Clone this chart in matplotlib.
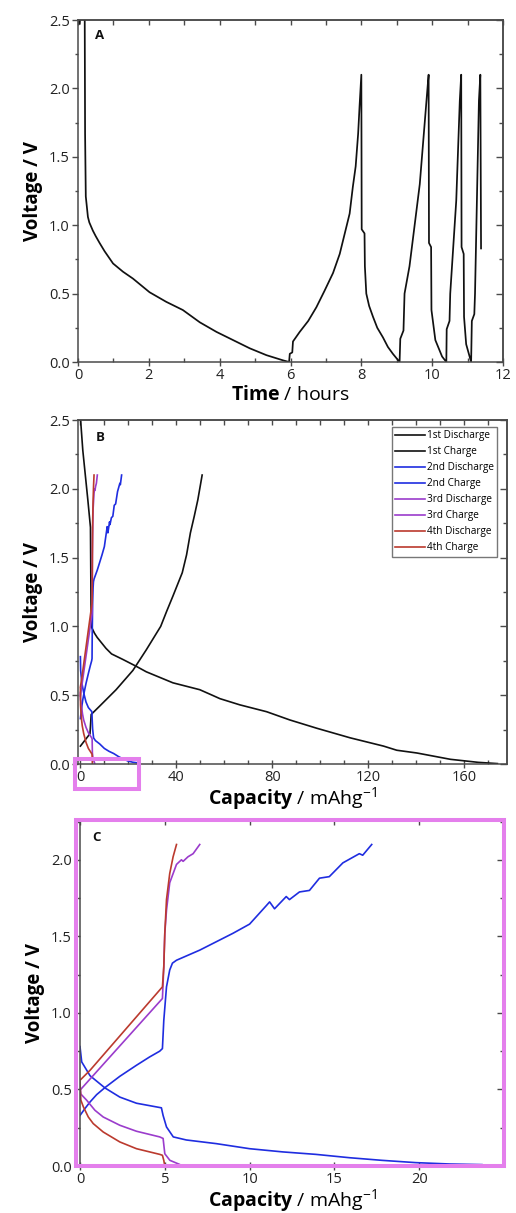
import matplotlib
matplotlib.use("Agg")
import matplotlib.pyplot as plt
from matplotlib.ticker import MultipleLocator, FixedLocator, FuncFormatter
from matplotlib.patches import Rectangle

plt.rcParams['font.family'] = ['Open Sans', 'DejaVu Sans']
plt.rcParams['mathtext.fontset'] = 'custom'
plt.rcParams['mathtext.rm'] = 'Open Sans'
plt.rcParams['mathtext.bf'] = 'Open Sans:bold'
plt.rcParams['axes.linewidth'] = 1.1

# ---- galvanostatic cycling: voltage vs time ----
time_h = [0.02, 0.05, 0.08, 0.17, 0.19, 0.20, 0.22, 0.28, 0.32, 0.42, 0.50, 0.61, 0.75,
          0.99, 1.27, 1.55, 2.02, 2.49, 2.96, 3.44, 3.91, 4.38, 4.85, 5.32, 5.79, 5.96,
          5.98, 6.05, 6.07, 6.26, 6.50, 6.73, 6.96, 7.20, 7.39, 7.58, 7.67, 7.76, 7.84,
          7.91, 7.95, 8.00,
          8.01, 8.09, 8.10, 8.14, 8.22, 8.33, 8.45, 8.61, 8.75, 8.89, 9.08,
          9.10, 9.19, 9.22, 9.36, 9.65, 9.88, 9.90,
          9.91, 9.97, 9.98, 10.09, 10.28, 10.40,
          10.41, 10.49, 10.51, 10.68, 10.78, 10.82,
          10.83, 10.89, 10.90, 10.96, 11.10,
          11.12, 11.19, 11.21, 11.32, 11.36, 11.38]
volt_t = [2.62, 2.47, 2.62, 2.62, 2.50, 1.67, 1.21, 1.06, 1.02, 0.96, 0.92, 0.87, 0.81,
          0.72, 0.66, 0.61, 0.51, 0.44, 0.38, 0.29, 0.22, 0.16, 0.10, 0.05, 0.012, 0.0,
          0.06, 0.07, 0.15, 0.22, 0.30, 0.40, 0.52, 0.65, 0.79, 0.99, 1.085, 1.28, 1.43,
          1.67, 1.87, 2.10,
          0.97, 0.94, 0.70, 0.50, 0.41, 0.33, 0.25, 0.18, 0.11, 0.06, 0.0,
          0.17, 0.23, 0.50, 0.70, 1.30, 2.04, 2.10,
          0.87, 0.84, 0.38, 0.16, 0.04, 0.0,
          0.24, 0.30, 0.50, 1.18, 1.91, 2.10,
          0.84, 0.79, 0.33, 0.13, 0.0,
          0.30, 0.35, 0.50, 1.91, 2.10, 0.83]

# ---- voltage profiles vs specific capacity (mAh/g) ----
cap_1d = [0, 1.0, 3.1, 4.2, 4.5, 5.9, 7.0, 10.7, 13.0, 17.7, 23.3, 27.5, 38.6, 49.8, 55.0,
          58.2, 66.5, 77.7, 87.4, 98.6, 112.6, 126.5, 132.0, 140.4, 154.4, 166.0, 174.0]
v_1d = [2.52, 2.28, 1.92, 1.72, 1.00, 0.95, 0.92, 0.84, 0.80, 0.76, 0.71, 0.67, 0.59, 0.54,
        0.50, 0.475, 0.43, 0.38, 0.32, 0.26, 0.19, 0.13, 0.10, 0.08, 0.034, 0.012, 0.003]

cap_1c = [0, 4.0, 4.5, 8.0, 14.9, 21.9, 27.5, 33.5, 36.0, 38.6, 42.5, 44.3, 45.9, 47.5,
          49.0, 50.0, 50.8]
v_1c = [0.13, 0.22, 0.36, 0.42, 0.54, 0.68, 0.83, 1.00, 1.11, 1.22, 1.39, 1.52, 1.68, 1.80,
        1.92, 2.02, 2.10]

cap_2d = [0, 0.1, 0.59, 1.47, 2.35, 3.33, 4.8, 4.9, 5.1, 5.5, 6.27, 8.04, 10.0,
          11.96, 13.9, 15.9, 17.8, 19.8, 21.8, 23.7]
v_2d = [0.78, 0.68, 0.59, 0.51, 0.45, 0.41, 0.38, 0.33, 0.255, 0.19, 0.17, 0.146, 0.113,
        0.092, 0.076, 0.054, 0.037, 0.022, 0.013, 0.009]

cap_2c = [0, 0.29, 0.59, 0.98, 1.47, 2.35, 3.33, 4.1, 4.7, 4.86, 4.94, 5.1, 5.29, 5.45, 5.69,
          7.06, 9.02, 10.0, 10.98, 11.18, 11.47, 12.16, 12.35, 12.94, 13.53, 14.12, 14.7,
          15.5, 16.47, 16.67, 17.2]
v_2c = [0.33, 0.375, 0.418, 0.466, 0.512, 0.586, 0.658, 0.712, 0.75, 0.767, 0.95, 1.17, 1.28,
        1.325, 1.344, 1.41, 1.52, 1.58, 1.70, 1.725, 1.68, 1.76, 1.74, 1.79, 1.80, 1.88, 1.89,
        1.98, 2.04, 2.03, 2.10]

cap_3d = [0, 0.05, 0.39, 0.88, 1.37, 2.35, 3.33, 4.7, 4.9, 5.0, 5.3, 5.88, 6.0]
v_3d = [0.52, 0.47, 0.43, 0.364, 0.32, 0.266, 0.227, 0.19, 0.18, 0.08, 0.037, 0.01, 0.0]

cap_3c = [0, 4.86, 4.94, 5.0, 5.1, 5.29, 5.69, 5.98, 6.08, 6.37, 6.67, 7.06]
v_3c = [0.495, 1.094, 1.30, 1.52, 1.67, 1.85, 1.97, 2.00, 1.99, 2.02, 2.04, 2.10]

cap_4d = [0, 0.05, 0.2, 0.49, 0.78, 1.37, 2.35, 3.33, 4.7, 4.86, 4.94, 5.0]
v_4d = [0.55, 0.43, 0.386, 0.32, 0.277, 0.222, 0.157, 0.113, 0.076, 0.07, 0.037, 0.0]

cap_4c = [0, 0.59, 4.86, 4.94, 5.0, 5.1, 5.29, 5.49, 5.69]
v_4c = [0.56, 0.625, 1.17, 1.30, 1.52, 1.74, 1.91, 2.02, 2.10]

series = [
    ("1st Discharge", cap_1d, v_1d, "#111111"),
    ("1st Charge", cap_1c, v_1c, "#111111"),
    ("2nd Discharge", cap_2d, v_2d, "#1f2de0"),
    ("2nd Charge", cap_2c, v_2c, "#1f2de0"),
    ("3rd Discharge", cap_3d, v_3d, "#9b3ccc"),
    ("3rd Charge", cap_3c, v_3c, "#9b3ccc"),
    ("4th Discharge", cap_4d, v_4d, "#bb3a2e"),
    ("4th Charge", cap_4c, v_4c, "#bb3a2e"),
]

PINK = "#e47fec"
SPINE = "#4a4a4a"
W, H = 516, 1213

fig = plt.figure(figsize=(W / 100, H / 100), dpi=100)


def box(x0, x1, y0, y1):
    return [x0 / W, 1 - y1 / H, (x1 - x0) / W, (y1 - y0) / H]


def style(ax, xmaj, xmin, ymaj, ymin, xtop=None):
    ax.xaxis.set_major_locator(xmaj)
    ax.xaxis.set_minor_locator(xmin)
    ax.yaxis.set_major_locator(ymaj)
    ax.yaxis.set_minor_locator(ymin)
    ax.yaxis.set_major_formatter(FuncFormatter(lambda v, p: f"{v:.1f}"))
    for s in ax.spines.values():
        s.set_color(SPINE)
    ax.tick_params(axis='x', which='major', direction='inout', length=6, width=1.0,
                   colors=SPINE, labelcolor='#222222', labelsize=10.5, pad=1.5)
    ax.tick_params(axis='x', which='minor', direction='in', length=3, width=1.0, colors=SPINE)
    ax.tick_params(axis='y', which='major', direction='out', length=4, width=1.0,
                   colors=SPINE, labelcolor='#222222', labelsize=10.5, pad=2)
    ax.tick_params(axis='y', which='minor', direction='out', length=2.5, width=1.0, colors=SPINE)
    top = ax.secondary_xaxis('top')
    top.xaxis.set_major_locator(xtop if xtop is not None else xmaj)
    top.xaxis.set_minor_locator(xmin)
    top.tick_params(which='both', direction='in', length=3.5, width=1.0, colors=SPINE,
                    labeltop=False)
    top.spines['top'].set_color(SPINE)
    right = ax.secondary_yaxis('right')
    right.yaxis.set_major_locator(ymaj)
    right.yaxis.set_minor_locator(ymin)
    right.tick_params(which='major', direction='in', length=5, width=1.0, colors=SPINE,
                      labelright=False)
    right.tick_params(which='minor', direction='in', length=3, width=1.0, colors=SPINE)
    right.spines['right'].set_color(SPINE)


def panel_tag(ax, s, x, y):
    ax.text(x, y, s, transform=ax.transAxes, fontsize=9.5, fontweight='bold',
            ha='left', va='center', color='#111111')


# Panel A: voltage vs time
axA = fig.add_axes(box(78, 503, 20, 362))
axA.plot(time_h, volt_t, color='#111111', lw=1.25)
axA.set_xlim(0, 12)
axA.set_ylim(0, 2.5)
style(axA, MultipleLocator(2), MultipleLocator(1), MultipleLocator(0.5), MultipleLocator(0.25))
axA.set_xlabel(r'$\mathbf{Time}$ / hours', fontsize=14, labelpad=1)
axA.set_ylabel('Voltage / V', fontsize=13.5, fontweight='bold', labelpad=4)
panel_tag(axA, 'A', 0.04, 0.955)

# Panel B: voltage profiles, full capacity range
axB = fig.add_axes(box(78, 507, 420, 764))
for label, c, v, col in series:
    axB.plot(c, v, color=col, lw=1.2, label=label)
axB.set_xlim(-1, 178)
axB.set_ylim(0, 2.5)
style(axB, MultipleLocator(40), MultipleLocator(10), MultipleLocator(0.5), MultipleLocator(0.25),
      xtop=MultipleLocator(40))
axB.xaxis.set_major_formatter(FuncFormatter(lambda v, p: f"{v:.0f}"))
axB.set_xlabel(r'$\mathbf{Capacity}$ / mAhg$^{-1}$', fontsize=14, labelpad=0)
axB.set_ylabel('Voltage / V', fontsize=13.5, fontweight='bold', labelpad=4)
panel_tag(axB, 'B', 0.042, 0.95)
leg = axB.legend(loc='upper right', bbox_to_anchor=(0.977, 0.98), borderaxespad=0,
                 fontsize=7.2, handlelength=3.0, handletextpad=0.15, labelspacing=0.5,
                 borderpad=0.35, fancybox=False, framealpha=1)
leg.get_frame().set_edgecolor('#777777')
leg.get_frame().set_linewidth(1.0)
# highlighted low-capacity window shown enlarged below
axB.add_patch(Rectangle((-2.2, -0.185), 26.6, 0.221, fill=False, edgecolor=PINK,
                        lw=2.9, clip_on=False, zorder=10))

# Panel C: low-capacity window
axC = fig.add_axes(box(80, 504, 820, 1166))
for label, c, v, col in series[2:]:
    axC.plot(c, v, color=col, lw=1.2)
axC.set_xlim(0, 25)
axC.set_ylim(0, 2.26)
style(axC, FixedLocator([0, 5, 10, 15, 20]), MultipleLocator(5), MultipleLocator(0.5),
      MultipleLocator(0.25))
axC.xaxis.set_major_formatter(FuncFormatter(lambda v, p: f"{v:.0f}"))
axC.set_xlabel(r'$\mathbf{Capacity}$ / mAhg$^{-1}$', fontsize=14, labelpad=0)
axC.set_ylabel('Voltage / V', fontsize=13.5, fontweight='bold', labelpad=4)
panel_tag(axC, 'C', 0.03, 0.95)
axC.add_patch(Rectangle((-0.0106, 0), 1.0106, 1, transform=axC.transAxes, fill=False,
                        edgecolor=PINK, lw=2.9, clip_on=False, zorder=10))

fig.savefig('out.png', dpi=100)
